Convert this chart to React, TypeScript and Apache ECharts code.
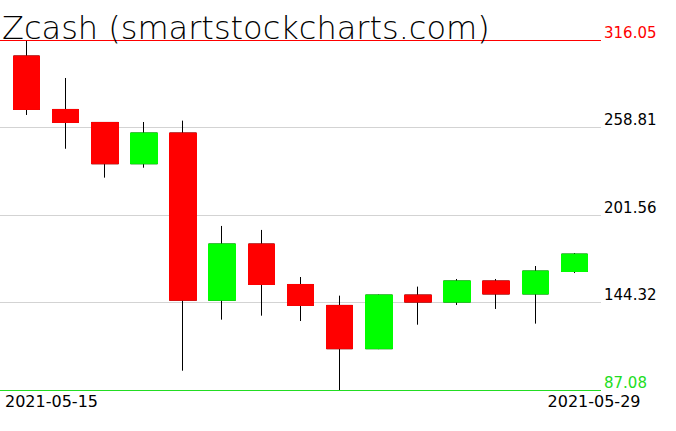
import React, { useEffect, useRef } from "react";
import * as echarts from "echarts";

const chartTitle = "Zcash (smartstockcharts.com)";
const dates = [
  "2021-05-15", "2021-05-16", "2021-05-17", "2021-05-18", "2021-05-19",
  "2021-05-20", "2021-05-21", "2021-05-22", "2021-05-23", "2021-05-24",
  "2021-05-25", "2021-05-26", "2021-05-27", "2021-05-28", "2021-05-29",
];
const opens = [305.6, 270.6, 262.1, 235.1, 255.2, 145.8, 182.6, 156.1, 142.4, 114.1, 149.2, 144.6, 158.4, 149.9, 164.6];
const closes = [270.6, 262.1, 235.1, 255.2, 145.8, 182.6, 156.1, 142.4, 114.1, 149.2, 144.6, 158.4, 149.9, 164.9, 176.0];
const lows = [267.0, 244.9, 226.0, 232.5, 99.7, 133.1, 135.7, 132.2, 87.08, 113.8, 129.8, 142.7, 140.1, 130.5, 163.6];
const highs = [316.05, 291.2, 262.4, 262.4, 263.3, 194.4, 191.8, 161.0, 148.8, 149.5, 154.7, 159.7, 159.7, 168.2, 176.7];
const yTicks = [87.08, 144.32, 201.56, 258.81, 316.05];

const FONT = "DejaVu Sans";
const RED = "#ff0000";
const GREEN = "#00ff00";
const LINE_GREEN = "#22dd22";

export default function App() {
  const ref = useRef<HTMLDivElement>(null);
  useEffect(() => {
    if (!ref.current) return;
    const chart = echarts.init(ref.current, undefined, { renderer: "svg" });
    const yMin = yTicks[0];
    const yMax = yTicks[yTicks.length - 1];
    const last = dates.length - 1;
    const full = dates.map((_, i) => [i, opens[i], closes[i], lows[i], highs[i]]);
    const bodies = dates.map((_, i) => [
      i,
      opens[i],
      closes[i],
      Math.min(opens[i], closes[i]),
      Math.max(opens[i], closes[i]),
    ]);
    chart.setOption({
      animation: false,
      backgroundColor: "#ffffff",
      title: {
        text: chartTitle,
        left: 2,
        top: 12,
        padding: 0,
        textStyle: { fontFamily: FONT, fontSize: 32, fontWeight: 200, color: "#000" },
      },
      grid: { left: 0, right: 75, top: 40, bottom: 41, containLabel: false },
      xAxis: [
        {
          type: "value",
          min: -0.677,
          max: last + 0.677,
          show: false,
          splitLine: { show: false },
        },
        {
          type: "category",
          data: dates,
          boundaryGap: false,
          position: "bottom",
          axisLine: { show: false },
          axisTick: { show: false },
          splitLine: { show: false },
          axisLabel: {
            interval: (idx: number) => idx === 0 || idx === last,
            showMinLabel: true,
            showMaxLabel: true,
            alignMinLabel: "left",
            margin: 3,
            fontFamily: FONT,
            fontSize: 16,
            color: "#000",
            formatter: (v: string, idx: number) => (idx === 0 ? `{a|${v}}` : `{b|${v}}`),
            rich: {
              a: { padding: [0, 0, 0, 5], fontFamily: FONT, fontSize: 16, color: "#000" },
              b: { padding: [0, 14, 0, 0], fontFamily: FONT, fontSize: 16, color: "#000" },
            },
          },
        },
      ],
      yAxis: {
        type: "value",
        position: "right",
        min: yMin,
        max: yMax,
        axisLine: { show: false },
        axisTick: { show: false, customValues: yTicks },
        splitLine: { show: true, lineStyle: { color: "#d3d3d3", width: 1 } },
        axisLabel: {
          customValues: yTicks,
          showMinLabel: true,
          showMaxLabel: true,
          margin: 3,
          verticalAlign: "bottom",
          fontFamily: FONT,
          fontSize: 15,
          formatter: (v: number) => v.toFixed(2),
          color: (v: any) => {
            const n = Number(v);
            if (Math.abs(n - yMax) < 0.01) return RED;
            if (Math.abs(n - yMin) < 0.01) return LINE_GREEN;
            return "#000";
          },
        },
      },
      series: [
        {
          type: "candlestick",
          xAxisIndex: 0,
          data: full,
          barWidth: 27,
          silent: true,
          itemStyle: {
            color: "transparent",
            color0: "transparent",
            borderColor: "#000",
            borderColor0: "#000",
            borderWidth: 1,
          },
          emphasis: { disabled: true },
        },
        {
          type: "candlestick",
          xAxisIndex: 0,
          data: bodies,
          barWidth: 27,
          silent: true,
          itemStyle: {
            color: GREEN,
            color0: RED,
            borderColor: GREEN,
            borderColor0: RED,
            borderWidth: 1,
          },
          emphasis: { disabled: true },
          markLine: {
            silent: true,
            symbol: "none",
            label: { show: false },
            animation: false,
            data: [
              { yAxis: yMax, lineStyle: { color: RED, type: "solid", width: 1 } },
              { yAxis: yMin, lineStyle: { color: LINE_GREEN, type: "solid", width: 1 } },
            ],
          },
        },
      ],
    });
    return () => chart.dispose();
  }, []);
  return (
    <div
      ref={ref}
      style={{ position: "fixed", left: 0, top: 0, width: 676, height: 431, background: "#fff" }}
    />
  );
}
